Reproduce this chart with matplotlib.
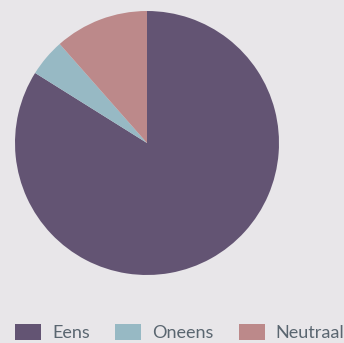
import matplotlib.pyplot as plt

labels = ['Eens', 'Oneens', 'Neutraal']
values = [83.9, 4.6, 11.5]
colors = ['#635473', '#97b9c4', '#bc898a']

bg = '#e8e6e9'
plt.rcParams['font.family'] = ['Lato', 'DejaVu Sans']

fig = plt.figure(figsize=(3.44, 3.43), dpi=100, facecolor=bg)
ax = fig.add_axes([15 / 344, 68 / 343, 264 / 344, 264 / 343])
ax.set_facecolor(bg)
wedges, _ = ax.pie(values, colors=colors, startangle=90, counterclock=False,
                   radius=1, wedgeprops={'linewidth': 0})
ax.set_xlim(-1, 1)
ax.set_ylim(-1, 1)
ax.set_aspect('equal')

fig.legend(wedges, labels, loc='lower left', bbox_to_anchor=(15 / 344, 2 / 343),
           ncol=3, frameon=False, fontsize=13, labelcolor='#5a6670',
           handlelength=1.45, handleheight=0.95, handletextpad=0.6,
           columnspacing=1.4, borderpad=0, borderaxespad=0)

fig.savefig('out.png', dpi=100, facecolor=bg)
